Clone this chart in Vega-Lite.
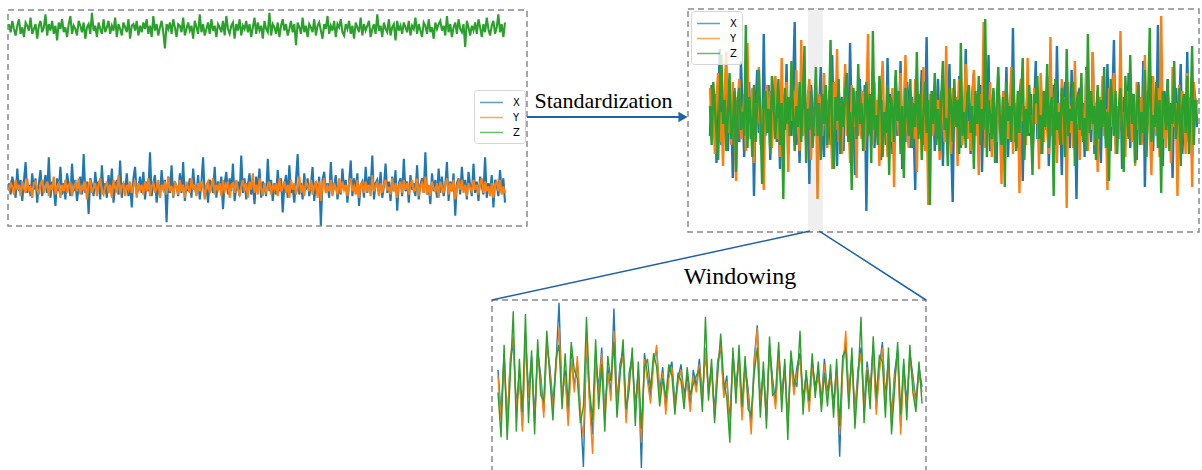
{
"$schema":"https://vega.github.io/schema/vega-lite/v6.json",
"width":1202,"height":470,"autosize":"none","padding":0,"background":"white",
"config":{"view":{"stroke":null}},
"datasets":{
"raw":[
{"i":0,"X":0.3,"Y":-0.2,"Z":10.1},{"i":1,"X":-0.4,"Y":0.3,"Z":9.6},{"i":2,"X":0.7,"Y":0.1,"Z":10.3},{"i":3,"X":0.1,"Y":-0.4,"Z":9.8},{"i":4,"X":-0.6,"Y":0.5,"Z":9.4},{"i":5,"X":1.2,"Y":-0.1,"Z":10.0},{"i":6,"X":-0.2,"Y":0.2,"Z":10.4},{"i":7,"X":0.5,"Y":-0.5,"Z":9.5},{"i":8,"X":-0.8,"Y":0.4,"Z":9.9},{"i":9,"X":0.4,"Y":0.0,"Z":9.3},
{"i":10,"X":1.6,"Y":-0.3,"Z":10.2},{"i":11,"X":-0.3,"Y":0.6,"Z":10.0},{"i":12,"X":0.2,"Y":-0.2,"Z":9.7},{"i":13,"X":-0.5,"Y":0.1,"Z":10.5},{"i":14,"X":0.9,"Y":-0.6,"Z":9.5},{"i":15,"X":-0.1,"Y":0.3,"Z":9.8},{"i":16,"X":0.6,"Y":0.4,"Z":10.1},{"i":17,"X":-0.9,"Y":-0.1,"Z":9.2},{"i":18,"X":0.3,"Y":-0.4,"Z":10.0},{"i":19,"X":1.1,"Y":0.2,"Z":10.3},
{"i":20,"X":-0.5,"Y":0.5,"Z":9.6},{"i":21,"X":0.2,"Y":-0.3,"Z":9.9},{"i":22,"X":0.8,"Y":0.0,"Z":10.7},{"i":23,"X":-0.3,"Y":0.4,"Z":9.4},{"i":24,"X":1.9,"Y":-0.5,"Z":10.1},{"i":25,"X":-0.6,"Y":0.2,"Z":9.7},{"i":26,"X":0.4,"Y":-0.1,"Z":10.3},{"i":27,"X":0.0,"Y":0.7,"Z":9.5},{"i":28,"X":-1.1,"Y":-0.4,"Z":10.0},{"i":29,"X":0.6,"Y":0.1,"Z":9.1},
{"i":30,"X":-0.2,"Y":0.3,"Z":10.2},{"i":31,"X":1.3,"Y":-0.6,"Z":9.8},{"i":32,"X":-0.4,"Y":0.2,"Z":10.4},{"i":33,"X":0.3,"Y":-0.2,"Z":9.6},{"i":34,"X":-0.7,"Y":0.5,"Z":9.9},{"i":35,"X":0.9,"Y":-0.3,"Z":9.3},{"i":36,"X":0.2,"Y":0.1,"Z":10.1},{"i":37,"X":-0.5,"Y":0.4,"Z":10.6},{"i":38,"X":1.5,"Y":-0.5,"Z":9.5},{"i":39,"X":-0.2,"Y":0.0,"Z":10.0},
{"i":40,"X":0.5,"Y":0.3,"Z":9.8},{"i":41,"X":-0.8,"Y":-0.2,"Z":9.4},{"i":42,"X":0.1,"Y":0.6,"Z":10.3},{"i":43,"X":0.7,"Y":-0.4,"Z":10.0},{"i":44,"X":-0.4,"Y":0.1,"Z":9.6},{"i":45,"X":2.1,"Y":-0.1,"Z":10.2},{"i":46,"X":-0.3,"Y":0.4,"Z":9.2},{"i":47,"X":0.4,"Y":-0.7,"Z":9.9},{"i":48,"X":-1.6,"Y":0.2,"Z":10.1},{"i":49,"X":0.6,"Y":0.5,"Z":9.5},
{"i":50,"X":0.2,"Y":-0.3,"Z":10.8},{"i":51,"X":-0.5,"Y":0.0,"Z":9.7},{"i":52,"X":1.0,"Y":0.3,"Z":10.0},{"i":53,"X":-0.1,"Y":-0.5,"Z":9.3},{"i":54,"X":0.4,"Y":0.2,"Z":10.2},{"i":55,"X":-0.7,"Y":0.6,"Z":9.8},{"i":56,"X":1.4,"Y":-0.2,"Z":9.5},{"i":57,"X":-0.3,"Y":-0.4,"Z":10.4},{"i":58,"X":0.3,"Y":0.1,"Z":9.6},{"i":59,"X":-0.6,"Y":0.4,"Z":9.9},
{"i":60,"X":0.8,"Y":-0.3,"Z":10.3},{"i":61,"X":-0.2,"Y":0.2,"Z":9.5},{"i":62,"X":1.2,"Y":-0.6,"Z":10.0},{"i":63,"X":-0.9,"Y":0.5,"Z":9.7},{"i":64,"X":0.1,"Y":0.0,"Z":10.5},{"i":65,"X":0.5,"Y":-0.2,"Z":9.3},{"i":66,"X":-0.4,"Y":0.8,"Z":10.1},{"i":67,"X":1.7,"Y":-0.4,"Z":9.8},{"i":68,"X":-0.6,"Y":0.1,"Z":9.4},{"i":69,"X":0.3,"Y":0.3,"Z":10.2},
{"i":70,"X":-0.1,"Y":-0.5,"Z":9.9},{"i":71,"X":0.9,"Y":0.2,"Z":9.6},{"i":72,"X":-0.5,"Y":-0.1,"Z":10.4},{"i":73,"X":0.2,"Y":0.4,"Z":9.2},{"i":74,"X":-1.2,"Y":-0.3,"Z":10.0},{"i":75,"X":0.6,"Y":0.1,"Z":10.1},{"i":76,"X":1.3,"Y":0.5,"Z":9.7},{"i":77,"X":-0.4,"Y":-0.6,"Z":10.3},{"i":78,"X":0.0,"Y":0.3,"Z":9.4},{"i":79,"X":0.7,"Y":-0.1,"Z":10.0},
{"i":80,"X":-0.3,"Y":0.2,"Z":9.6},{"i":81,"X":1.0,"Y":-0.4,"Z":10.2},{"i":82,"X":-0.7,"Y":0.4,"Z":9.8},{"i":83,"X":0.4,"Y":-0.2,"Z":10.4},{"i":84,"X":-0.2,"Y":0.6,"Z":9.5},{"i":85,"X":2.2,"Y":-0.5,"Z":10.0},{"i":86,"X":-0.5,"Y":0.1,"Z":9.3},{"i":87,"X":0.3,"Y":0.3,"Z":10.6},{"i":88,"X":0.8,"Y":-0.3,"Z":9.7},{"i":89,"X":-0.9,"Y":0.0,"Z":10.1},
{"i":90,"X":0.2,"Y":0.5,"Z":9.4},{"i":91,"X":-0.4,"Y":-0.6,"Z":9.9},{"i":92,"X":1.1,"Y":0.2,"Z":10.3},{"i":93,"X":-0.1,"Y":-0.1,"Z":9.6},{"i":94,"X":0.5,"Y":0.4,"Z":8.6},{"i":95,"X":-2.1,"Y":-0.4,"Z":10.1},{"i":96,"X":0.7,"Y":0.7,"Z":9.8},{"i":97,"X":-0.3,"Y":-0.2,"Z":10.2},{"i":98,"X":1.4,"Y":0.1,"Z":9.5},{"i":99,"X":-0.6,"Y":-0.5,"Z":10.4},
{"i":100,"X":0.4,"Y":0.3,"Z":9.9},{"i":101,"X":0.1,"Y":0.1,"Z":9.3},{"i":102,"X":-0.5,"Y":-0.4,"Z":10.1},{"i":103,"X":0.9,"Y":0.5,"Z":10.0},{"i":104,"X":-0.3,"Y":-0.2,"Z":9.6},{"i":105,"X":1.6,"Y":0.2,"Z":10.5},{"i":106,"X":-0.8,"Y":-0.6,"Z":9.4},{"i":107,"X":0.2,"Y":0.4,"Z":9.8},{"i":108,"X":-0.2,"Y":0.0,"Z":10.2},{"i":109,"X":0.6,"Y":-0.3,"Z":9.7},
{"i":110,"X":-0.6,"Y":0.6,"Z":10.0},{"i":111,"X":1.2,"Y":-0.1,"Z":9.2},{"i":112,"X":0.0,"Y":0.2,"Z":10.3},{"i":113,"X":-0.4,"Y":-0.5,"Z":9.9},{"i":114,"X":0.8,"Y":0.3,"Z":9.5},{"i":115,"X":-0.7,"Y":-0.2,"Z":10.7},{"i":116,"X":0.3,"Y":0.4,"Z":9.6},{"i":117,"X":1.9,"Y":0.1,"Z":10.1},{"i":118,"X":-0.5,"Y":-0.7,"Z":9.4},{"i":119,"X":0.1,"Y":0.2,"Z":9.8},
{"i":120,"X":-0.9,"Y":0.4,"Z":10.2},{"i":121,"X":0.5,"Y":-0.3,"Z":9.5},{"i":122,"X":0.2,"Y":0.1,"Z":10.4},{"i":123,"X":-0.3,"Y":0.6,"Z":9.7},{"i":124,"X":1.3,"Y":-0.4,"Z":10.0},{"i":125,"X":-0.6,"Y":0.2,"Z":9.3},{"i":126,"X":0.4,"Y":-0.1,"Z":10.1},{"i":127,"X":-0.1,"Y":0.3,"Z":9.9},{"i":128,"X":0.7,"Y":-0.5,"Z":9.6},{"i":129,"X":-1.3,"Y":0.5,"Z":10.3},
{"i":130,"X":0.3,"Y":-0.2,"Z":9.4},{"i":131,"X":1.0,"Y":0.0,"Z":10.6},{"i":132,"X":-0.4,"Y":0.4,"Z":9.8},{"i":133,"X":0.6,"Y":-0.6,"Z":9.5},{"i":134,"X":-0.2,"Y":0.2,"Z":10.0},{"i":135,"X":1.5,"Y":0.3,"Z":10.2},{"i":136,"X":-0.8,"Y":-0.3,"Z":9.2},{"i":137,"X":0.1,"Y":0.5,"Z":10.1},{"i":138,"X":0.4,"Y":-0.1,"Z":9.7},{"i":139,"X":-0.5,"Y":-0.4,"Z":10.4},
{"i":140,"X":2.0,"Y":0.1,"Z":9.4},{"i":141,"X":-0.3,"Y":0.5,"Z":10.0},{"i":142,"X":0.6,"Y":-0.2,"Z":9.8},{"i":143,"X":-0.7,"Y":0.3,"Z":10.3},{"i":144,"X":0.2,"Y":-0.6,"Z":9.6},{"i":145,"X":0.9,"Y":0.4,"Z":10.1},{"i":146,"X":-0.4,"Y":-0.1,"Z":9.3},{"i":147,"X":0.3,"Y":0.9,"Z":9.9},{"i":148,"X":-1.0,"Y":-0.3,"Z":10.5},{"i":149,"X":0.7,"Y":0.2,"Z":9.5},
{"i":150,"X":-0.1,"Y":-0.4,"Z":10.2},{"i":151,"X":1.2,"Y":0.6,"Z":9.7},{"i":152,"X":-0.6,"Y":0.0,"Z":10.0},{"i":153,"X":0.4,"Y":-0.5,"Z":9.2},{"i":154,"X":0.1,"Y":0.3,"Z":10.3},{"i":155,"X":-0.5,"Y":-0.2,"Z":9.8},{"i":156,"X":1.8,"Y":0.1,"Z":9.6},{"i":157,"X":-0.2,"Y":0.4,"Z":10.8},{"i":158,"X":0.5,"Y":-0.4,"Z":9.4},{"i":159,"X":-0.8,"Y":0.2,"Z":10.1},
{"i":160,"X":0.3,"Y":-0.1,"Z":9.9},{"i":161,"X":-0.4,"Y":0.3,"Z":9.5},{"i":162,"X":1.1,"Y":-0.5,"Z":10.2},{"i":163,"X":-0.2,"Y":0.6,"Z":9.3},{"i":164,"X":0.6,"Y":-0.2,"Z":10.0},{"i":165,"X":-1.5,"Y":0.1,"Z":10.4},{"i":166,"X":0.2,"Y":0.4,"Z":9.7},{"i":167,"X":0.8,"Y":-0.3,"Z":10.1},{"i":168,"X":-0.6,"Y":0.2,"Z":9.4},{"i":169,"X":1.4,"Y":-0.6,"Z":9.8},
{"i":170,"X":-0.3,"Y":0.5,"Z":10.3},{"i":171,"X":0.1,"Y":-0.1,"Z":9.6},{"i":172,"X":-0.9,"Y":0.3,"Z":10.1},{"i":173,"X":0.5,"Y":-0.4,"Z":8.8},{"i":174,"X":2.1,"Y":0.0,"Z":10.2},{"i":175,"X":-0.4,"Y":0.7,"Z":9.9},{"i":176,"X":0.3,"Y":-0.3,"Z":9.5},{"i":177,"X":-0.7,"Y":0.2,"Z":10.5},{"i":178,"X":0.9,"Y":-0.5,"Z":9.6},{"i":179,"X":-0.1,"Y":0.4,"Z":10.0},
{"i":180,"X":0.6,"Y":0.2,"Z":9.3},{"i":181,"X":-0.5,"Y":-0.2,"Z":10.1},{"i":182,"X":0.2,"Y":0.5,"Z":9.9},{"i":183,"X":1.3,"Y":-0.4,"Z":9.6},{"i":184,"X":-0.8,"Y":0.1,"Z":10.4},{"i":185,"X":0.4,"Y":0.3,"Z":9.4},{"i":186,"X":-0.3,"Y":-0.6,"Z":10.0},{"i":187,"X":0.7,"Y":0.4,"Z":10.2},{"i":188,"X":-2.3,"Y":-0.8,"Z":9.7},{"i":189,"X":0.5,"Y":0.2,"Z":9.2},
{"i":190,"X":1.0,"Y":0.6,"Z":10.1},{"i":191,"X":-0.2,"Y":-0.3,"Z":9.8},{"i":192,"X":0.3,"Y":0.1,"Z":10.6},{"i":193,"X":-0.6,"Y":-0.2,"Z":9.5},{"i":194,"X":1.6,"Y":0.5,"Z":10.0},{"i":195,"X":-0.4,"Y":-0.5,"Z":9.7},{"i":196,"X":0.1,"Y":0.3,"Z":10.3},{"i":197,"X":0.8,"Y":0.0,"Z":9.3},{"i":198,"X":-0.7,"Y":-0.4,"Z":10.1},{"i":199,"X":0.2,"Y":0.6,"Z":9.9},
{"i":200,"X":-0.4,"Y":-0.3,"Z":10.4},{"i":201,"X":1.2,"Y":0.4,"Z":9.6},{"i":202,"X":-0.1,"Y":-0.1,"Z":9.4},{"i":203,"X":0.5,"Y":0.2,"Z":10.1},{"i":204,"X":-0.9,"Y":-0.5,"Z":9.8},{"i":205,"X":0.3,"Y":0.3,"Z":10.3},{"i":206,"X":1.7,"Y":0.6,"Z":9.5},{"i":207,"X":-0.5,"Y":-0.2,"Z":10.0},{"i":208,"X":0.6,"Y":0.1,"Z":9.2},{"i":209,"X":-0.2,"Y":-0.4,"Z":10.2},
{"i":210,"X":0.9,"Y":0.5,"Z":9.9},{"i":211,"X":-1.1,"Y":-0.6,"Z":9.6},{"i":212,"X":0.2,"Y":0.2,"Z":10.5},{"i":213,"X":0.4,"Y":0.3,"Z":9.4},{"i":214,"X":-0.6,"Y":-0.3,"Z":10.1},{"i":215,"X":1.3,"Y":0.4,"Z":9.7},{"i":216,"X":-0.3,"Y":-0.1,"Z":10.0},{"i":217,"X":0.7,"Y":0.2,"Z":10.3},{"i":218,"X":-0.1,"Y":-0.5,"Z":9.3},{"i":219,"X":2.0,"Y":0.8,"Z":9.8},
{"i":220,"X":-0.7,"Y":-0.2,"Z":10.1},{"i":221,"X":0.3,"Y":0.1,"Z":9.5},{"i":222,"X":0.5,"Y":0.4,"Z":10.7},{"i":223,"X":-0.4,"Y":-0.5,"Z":9.7},{"i":224,"X":1.0,"Y":0.3,"Z":10.0},{"i":225,"X":-0.6,"Y":-0.3,"Z":9.3},{"i":226,"X":0.1,"Y":0.2,"Z":10.2},{"i":227,"X":1.5,"Y":0.5,"Z":9.8},{"i":228,"X":-0.3,"Y":-0.1,"Z":9.6},{"i":229,"X":0.4,"Y":0.0,"Z":10.4},
{"i":230,"X":-0.8,"Y":-0.4,"Z":9.4},{"i":231,"X":0.7,"Y":0.6,"Z":9.9},{"i":232,"X":-0.2,"Y":-0.2,"Z":10.1},{"i":233,"X":1.1,"Y":0.3,"Z":9.1},{"i":234,"X":-1.4,"Y":-0.6,"Z":10.3},{"i":235,"X":0.3,"Y":0.1,"Z":9.7},{"i":236,"X":0.6,"Y":0.4,"Z":10.0},{"i":237,"X":-0.5,"Y":-0.3,"Z":9.5},{"i":238,"X":1.8,"Y":0.5,"Z":10.2},{"i":239,"X":-0.2,"Y":-0.1,"Z":9.9},
{"i":240,"X":0.4,"Y":0.3,"Z":9.6},{"i":241,"X":-0.9,"Y":-0.4,"Z":10.3},{"i":242,"X":0.8,"Y":0.2,"Z":9.4},{"i":243,"X":-0.1,"Y":0.5,"Z":10.0},{"i":244,"X":0.3,"Y":-0.2,"Z":9.8},{"i":245,"X":-0.5,"Y":-0.1,"Z":10.5},{"i":246,"X":1.4,"Y":0.6,"Z":9.5},{"i":247,"X":-0.7,"Y":-0.5,"Z":10.1},{"i":248,"X":0.2,"Y":0.1,"Z":9.7},{"i":249,"X":0.6,"Y":0.3,"Z":9.3},
{"i":250,"X":-0.3,"Y":-0.3,"Z":10.2},{"i":251,"X":2.2,"Y":0.7,"Z":10.0},{"i":252,"X":-0.4,"Y":-0.4,"Z":9.5},{"i":253,"X":0.1,"Y":0.2,"Z":10.4},{"i":254,"X":-1.0,"Y":-0.5,"Z":9.6},{"i":255,"X":0.9,"Y":0.4,"Z":9.9},{"i":256,"X":-0.2,"Y":0.0,"Z":9.2},{"i":257,"X":0.5,"Y":-0.2,"Z":10.2},{"i":258,"X":-0.6,"Y":0.3,"Z":9.8},{"i":259,"X":1.2,"Y":-0.6,"Z":10.1},
{"i":260,"X":-0.3,"Y":0.4,"Z":10.3},{"i":261,"X":0.7,"Y":0.1,"Z":9.7},{"i":262,"X":-0.5,"Y":-0.3,"Z":10.0},{"i":263,"X":0.2,"Y":0.2,"Z":9.4},{"i":264,"X":1.6,"Y":0.6,"Z":10.6},{"i":265,"X":-0.8,"Y":-0.4,"Z":9.6},{"i":266,"X":0.4,"Y":0.3,"Z":10.1},{"i":267,"X":-0.2,"Y":-0.2,"Z":9.3},{"i":268,"X":0.9,"Y":0.5,"Z":9.9},{"i":269,"X":-1.7,"Y":-0.7,"Z":10.2},
{"i":270,"X":0.3,"Y":0.1,"Z":9.5},{"i":271,"X":0.6,"Y":0.4,"Z":10.4},{"i":272,"X":-0.4,"Y":-0.1,"Z":9.8},{"i":273,"X":1.3,"Y":0.5,"Z":9.6},{"i":274,"X":-0.1,"Y":-0.3,"Z":10.1},{"i":275,"X":0.5,"Y":0.2,"Z":8.7},{"i":276,"X":-0.7,"Y":-0.5,"Z":10.3},{"i":277,"X":1.0,"Y":0.3,"Z":9.9},{"i":278,"X":0.2,"Y":0.0,"Z":9.4},{"i":279,"X":-0.5,"Y":-0.2,"Z":10.0},
{"i":280,"X":1.5,"Y":0.5,"Z":9.7},{"i":281,"X":-0.3,"Y":-0.1,"Z":10.2},{"i":282,"X":0.4,"Y":0.2,"Z":9.5},{"i":283,"X":-0.8,"Y":-0.4,"Z":10.4},{"i":284,"X":0.7,"Y":0.3,"Z":9.9},{"i":285,"X":0.1,"Y":0.6,"Z":9.3},{"i":286,"X":-0.4,"Y":-0.3,"Z":10.1},{"i":287,"X":1.9,"Y":0.4,"Z":9.6},{"i":288,"X":-0.6,"Y":-0.2,"Z":10.5},{"i":289,"X":0.3,"Y":0.1,"Z":9.8},
{"i":290,"X":-0.2,"Y":-0.5,"Z":9.4},{"i":291,"X":0.8,"Y":0.3,"Z":10.0},{"i":292,"X":-1.2,"Y":-0.6,"Z":10.3},{"i":293,"X":0.5,"Y":0.2,"Z":9.5},{"i":294,"X":0.2,"Y":0.4,"Z":9.9},{"i":295,"X":-0.5,"Y":-0.2,"Z":10.7},{"i":296,"X":1.1,"Y":0.5,"Z":9.6},{"i":297,"X":-0.3,"Y":-0.4,"Z":10.1},{"i":298,"X":0.6,"Y":0.1,"Z":9.3},{"i":299,"X":-0.9,"Y":-0.3,"Z":10.2}
],
"std":[
{"i":0,"X":-0.6,"Y":1.0,"Z":0.4},{"i":1,"X":1.1,"Y":-0.4,"Z":-0.9},{"i":2,"X":-0.2,"Y":0.3,"Z":1.2},{"i":3,"X":0.8,"Y":-1.2,"Z":0.3},{"i":4,"X":-1.5,"Y":0.7,"Z":-0.5},{"i":5,"X":0.4,"Y":1.5,"Z":-1.4},{"i":6,"X":2.3,"Y":-0.8,"Z":0.8},{"i":7,"X":-0.9,"Y":0.2,"Z":2.1},{"i":8,"X":0.1,"Y":-1.6,"Z":-0.2},{"i":9,"X":-0.4,"Y":0.9,"Z":0.6},
{"i":10,"X":1.3,"Y":2.2,"Z":-1.1},{"i":11,"X":-1.1,"Y":-0.5,"Z":0.1},{"i":12,"X":0.6,"Y":0.4,"Z":1.5},{"i":13,"X":0.2,"Y":-0.9,"Z":-0.7},{"i":14,"X":-2.0,"Y":1.2,"Z":-0.3},{"i":15,"X":1.0,"Y":-0.2,"Z":0.9},{"i":16,"X":-0.3,"Y":-2.1,"Z":-1.8},{"i":17,"X":0.7,"Y":0.6,"Z":0.5},{"i":18,"X":-0.8,"Y":1.3,"Z":1.0},{"i":19,"X":1.9,"Y":-0.7,"Z":-0.4},
{"i":20,"X":0.3,"Y":-0.3,"Z":0.2},{"i":21,"X":-1.3,"Y":0.8,"Z":-0.6},{"i":22,"X":0.5,"Y":-1.1,"Z":3.1},{"i":23,"X":-0.1,"Y":2.5,"Z":-1.0},{"i":24,"X":1.2,"Y":-0.6,"Z":0.7},{"i":25,"X":-0.7,"Y":0.1,"Z":0.0},{"i":26,"X":0.9,"Y":1.0,"Z":-1.3},{"i":27,"X":-2.6,"Y":-1.5,"Z":1.1},{"i":28,"X":0.4,"Y":0.5,"Z":-0.8},{"i":29,"X":1.6,"Y":-0.2,"Z":0.4},
{"i":30,"X":-0.5,"Y":1.7,"Z":1.6},{"i":31,"X":0.0,"Y":-0.9,"Z":-0.1},{"i":32,"X":-1.0,"Y":0.3,"Z":-2.2},{"i":33,"X":2.8,"Y":-2.4,"Z":0.6},{"i":34,"X":-0.6,"Y":0.6,"Z":0.9},{"i":35,"X":0.3,"Y":1.1,"Z":-0.5},{"i":36,"X":1.1,"Y":-0.4,"Z":0.3},{"i":37,"X":-1.4,"Y":0.9,"Z":-1.2},{"i":38,"X":0.6,"Y":-1.0,"Z":1.4},{"i":39,"X":-0.2,"Y":0.2,"Z":0.8},
{"i":40,"X":1.4,"Y":1.4,"Z":-0.7},{"i":41,"X":-0.8,"Y":-0.7,"Z":0.1},{"i":42,"X":0.2,"Y":0.0,"Z":1.3},{"i":43,"X":-1.7,"Y":-1.3,"Z":-0.9},{"i":44,"X":0.9,"Y":2.0,"Z":0.5},{"i":45,"X":0.5,"Y":-0.5,"Z":-2.7},{"i":46,"X":-0.4,"Y":0.6,"Z":1.0},{"i":47,"X":1.8,"Y":1.2,"Z":-0.2},{"i":48,"X":-1.2,"Y":-1.8,"Z":0.7},{"i":49,"X":0.1,"Y":0.4,"Z":-0.6},
{"i":50,"X":-0.6,"Y":-0.1,"Z":1.9},{"i":51,"X":1.0,"Y":0.9,"Z":0.2},{"i":52,"X":3.2,"Y":-0.8,"Z":-1.1},{"i":53,"X":-0.9,"Y":1.6,"Z":0.4},{"i":54,"X":0.4,"Y":-0.3,"Z":-0.3},{"i":55,"X":-1.5,"Y":-1.1,"Z":1.2},{"i":56,"X":0.7,"Y":2.6,"Z":-0.8},{"i":57,"X":-0.3,"Y":-0.6,"Z":0.6},{"i":58,"X":1.2,"Y":0.3,"Z":2.4},{"i":59,"X":-0.7,"Y":-0.9,"Z":-1.5},
{"i":60,"X":0.5,"Y":0.7,"Z":0.3},{"i":61,"X":-2.2,"Y":1.3,"Z":-0.4},{"i":62,"X":1.1,"Y":-1.4,"Z":0.9},{"i":63,"X":0.3,"Y":0.2,"Z":-1.0},{"i":64,"X":-0.6,"Y":-0.5,"Z":0.1},{"i":65,"X":0.8,"Y":1.0,"Z":1.7},{"i":66,"X":-1.0,"Y":-2.7,"Z":-0.6},{"i":67,"X":0.2,"Y":0.8,"Z":0.5},{"i":68,"X":1.7,"Y":0.4,"Z":-1.4},{"i":69,"X":-0.5,"Y":-0.6,"Z":0.8},
{"i":70,"X":-1.3,"Y":1.5,"Z":-0.2},{"i":71,"X":0.9,"Y":-0.2,"Z":1.1},{"i":72,"X":-0.1,"Y":-1.0,"Z":-0.9},{"i":73,"X":0.6,"Y":0.9,"Z":0.0},{"i":74,"X":-0.9,"Y":0.1,"Z":2.6},{"i":75,"X":2.1,"Y":-1.7,"Z":-0.5},{"i":76,"X":-0.4,"Y":1.2,"Z":-1.7},{"i":77,"X":0.1,"Y":-0.4,"Z":0.7},{"i":78,"X":-1.6,"Y":2.3,"Z":-0.1},{"i":79,"X":1.0,"Y":-0.8,"Z":1.3},
{"i":80,"X":-0.3,"Y":0.5,"Z":-1.2},{"i":81,"X":0.7,"Y":-1.2,"Z":0.6},{"i":82,"X":-1.1,"Y":0.3,"Z":-0.3},{"i":83,"X":1.5,"Y":1.8,"Z":0.9},{"i":84,"X":0.2,"Y":-0.6,"Z":1.5},{"i":85,"X":-0.8,"Y":0.0,"Z":-0.8},{"i":86,"X":2.5,"Y":-1.5,"Z":0.2},{"i":87,"X":-0.2,"Y":1.1,"Z":-2.4},{"i":88,"X":0.4,"Y":-0.3,"Z":1.0},{"i":89,"X":-1.9,"Y":0.7,"Z":0.4},
{"i":90,"X":0.9,"Y":-2.0,"Z":-0.7},{"i":91,"X":-0.6,"Y":1.4,"Z":1.8},{"i":92,"X":1.3,"Y":0.2,"Z":-0.2},{"i":93,"X":0.0,"Y":-0.7,"Z":0.5},{"i":94,"X":-0.7,"Y":0.9,"Z":-1.1},{"i":95,"X":1.1,"Y":-1.1,"Z":0.3},{"i":96,"X":-3.1,"Y":0.4,"Z":1.2},{"i":97,"X":0.5,"Y":2.8,"Z":-0.6},{"i":98,"X":0.8,"Y":-0.5,"Z":0.8},{"i":99,"X":-0.4,"Y":0.1,"Z":-1.5},
{"i":100,"X":1.6,"Y":-0.9,"Z":2.9},{"i":101,"X":-1.0,"Y":1.2,"Z":-0.4},{"i":102,"X":0.3,"Y":-0.2,"Z":0.1},{"i":103,"X":-0.5,"Y":0.6,"Z":-0.9},{"i":104,"X":1.0,"Y":-1.6,"Z":1.4},{"i":105,"X":-1.4,"Y":0.8,"Z":0.6},{"i":106,"X":0.6,"Y":1.9,"Z":-1.3},{"i":107,"X":0.1,"Y":-0.4,"Z":0.2},{"i":108,"X":-0.9,"Y":0.3,"Z":-0.5},{"i":109,"X":2.0,"Y":-1.3,"Z":1.1},
{"i":110,"X":-0.3,"Y":0.5,"Z":-1.9},{"i":111,"X":0.8,"Y":-0.8,"Z":0.7},{"i":112,"X":-1.2,"Y":1.0,"Z":0.3},{"i":113,"X":0.4,"Y":-2.3,"Z":-0.8},{"i":114,"X":1.4,"Y":0.7,"Z":1.6},{"i":115,"X":-0.6,"Y":0.2,"Z":-0.1},{"i":116,"X":-0.1,"Y":-0.6,"Z":0.9},{"i":117,"X":1.9,"Y":1.5,"Z":-1.2},{"i":118,"X":-1.7,"Y":-1.2,"Z":0.4},{"i":119,"X":0.2,"Y":0.4,"Z":-2.0},
{"i":120,"X":-0.8,"Y":2.1,"Z":1.0},{"i":121,"X":1.2,"Y":-0.3,"Z":0.2},{"i":122,"X":0.5,"Y":-1.0,"Z":-0.6},{"i":123,"X":-1.0,"Y":0.9,"Z":1.3},{"i":124,"X":0.7,"Y":0.2,"Z":-1.0},{"i":125,"X":-0.2,"Y":-0.7,"Z":0.5},{"i":126,"X":-2.4,"Y":1.3,"Z":-0.3},{"i":127,"X":1.1,"Y":-1.8,"Z":2.2},{"i":128,"X":-0.5,"Y":0.6,"Z":-0.7},{"i":129,"X":0.3,"Y":0.0,"Z":0.8},
{"i":130,"X":1.6,"Y":-0.5,"Z":-1.4},{"i":131,"X":-0.9,"Y":1.7,"Z":0.1},{"i":132,"X":0.0,"Y":-1.1,"Z":1.2},{"i":133,"X":2.7,"Y":0.4,"Z":-0.5},{"i":134,"X":-1.3,"Y":-2.9,"Z":0.6},{"i":135,"X":0.6,"Y":0.8,"Z":-2.9},{"i":136,"X":-0.4,"Y":0.3,"Z":0.9},{"i":137,"X":0.9,"Y":-0.6,"Z":-0.2},{"i":138,"X":-1.1,"Y":1.1,"Z":1.5},{"i":139,"X":0.2,"Y":-0.2,"Z":-0.9},
{"i":140,"X":1.3,"Y":0.6,"Z":0.3},{"i":141,"X":-0.6,"Y":-1.4,"Z":-1.1},{"i":142,"X":0.4,"Y":0.9,"Z":0.7},{"i":143,"X":-1.6,"Y":0.1,"Z":1.9},{"i":144,"X":1.0,"Y":-0.8,"Z":-0.4},{"i":145,"X":0.6,"Y":2.4,"Z":0.0},{"i":146,"X":-0.3,"Y":-0.4,"Z":-1.6},{"i":147,"X":1.8,"Y":0.5,"Z":1.0},{"i":148,"X":-0.8,"Y":-1.2,"Z":0.5},{"i":149,"X":-2.8,"Y":1.0,"Z":-0.8},
{"i":150,"X":0.9,"Y":-0.3,"Z":1.3},{"i":151,"X":0.2,"Y":0.7,"Z":-0.3},{"i":152,"X":-0.5,"Y":-1.6,"Z":0.6},{"i":153,"X":1.4,"Y":1.3,"Z":-1.2},{"i":154,"X":-1.0,"Y":0.2,"Z":2.5},{"i":155,"X":0.3,"Y":-0.9,"Z":-0.6},{"i":156,"X":-0.7,"Y":0.4,"Z":0.2},{"i":157,"X":2.3,"Y":1.8,"Z":-1.0},{"i":158,"X":-0.2,"Y":-0.7,"Z":0.8},{"i":159,"X":0.5,"Y":-0.1,"Z":1.1},
{"i":160,"X":-1.2,"Y":-1.1,"Z":-0.5},{"i":161,"X":0.8,"Y":0.5,"Z":0.4},{"i":162,"X":1.5,"Y":1.6,"Z":-1.7},{"i":163,"X":-0.4,"Y":-0.6,"Z":0.9},{"i":164,"X":0.1,"Y":0.3,"Z":-0.2},{"i":165,"X":-0.9,"Y":-1.9,"Z":1.4},{"i":166,"X":1.1,"Y":0.8,"Z":-0.9},{"i":167,"X":-1.8,"Y":-0.2,"Z":0.3},{"i":168,"X":0.6,"Y":3.2,"Z":-0.4},{"i":169,"X":0.3,"Y":-1.0,"Z":3.3},
{"i":170,"X":-0.6,"Y":0.4,"Z":-1.3},{"i":171,"X":2.1,"Y":-0.5,"Z":0.6},{"i":172,"X":-1.1,"Y":1.2,"Z":0.1},{"i":173,"X":0.4,"Y":-1.3,"Z":-0.7},{"i":174,"X":0.9,"Y":0.6,"Z":1.0},{"i":175,"X":-0.3,"Y":0.0,"Z":-1.5},{"i":176,"X":-1.5,"Y":-0.8,"Z":0.5},{"i":177,"X":1.2,"Y":1.4,"Z":1.7},{"i":178,"X":0.0,"Y":-0.4,"Z":-0.3},{"i":179,"X":-0.7,"Y":-2.2,"Z":-0.9},
{"i":180,"X":0.9,"Y":0.9,"Z":0.7},{"i":181,"X":-0.2,"Y":-0.3,"Z":-2.3},{"i":182,"X":1.7,"Y":1.1,"Z":1.2},{"i":183,"X":-1.3,"Y":-0.7,"Z":-0.1},{"i":184,"X":0.5,"Y":0.2,"Z":0.4},{"i":185,"X":-0.5,"Y":1.7,"Z":-0.8},{"i":186,"X":3.0,"Y":-1.2,"Z":1.6},{"i":187,"X":-0.8,"Y":0.5,"Z":0.2},{"i":188,"X":0.2,"Y":-0.6,"Z":-1.1},{"i":189,"X":-1.0,"Y":0.8,"Z":0.9},
{"i":190,"X":0.7,"Y":-2.5,"Z":-0.5},{"i":191,"X":1.3,"Y":1.3,"Z":0.6},{"i":192,"X":-2.1,"Y":-0.1,"Z":2.0},{"i":193,"X":0.4,"Y":0.4,"Z":-1.4},{"i":194,"X":-0.1,"Y":-0.9,"Z":0.3},{"i":195,"X":1.0,"Y":2.0,"Z":-0.6},{"i":196,"X":-0.6,"Y":-0.5,"Z":1.1},{"i":197,"X":0.8,"Y":0.1,"Z":-0.2},{"i":198,"X":-1.4,"Y":-1.4,"Z":-1.9},{"i":199,"X":0.3,"Y":1.0,"Z":0.8},
{"i":200,"X":1.9,"Y":-0.2,"Z":0.5},{"i":201,"X":-0.7,"Y":0.6,"Z":1.4},{"i":202,"X":0.1,"Y":-1.7,"Z":-0.7},{"i":203,"X":-1.2,"Y":1.5,"Z":0.1},{"i":204,"X":0.6,"Y":0.3,"Z":-1.2},{"i":205,"X":0.9,"Y":-0.8,"Z":0.9},{"i":206,"X":-0.4,"Y":0.9,"Z":-0.3},{"i":207,"X":1.4,"Y":-0.4,"Z":1.8},{"i":208,"X":-1.6,"Y":-1.2,"Z":-1.0},{"i":209,"X":0.2,"Y":2.7,"Z":0.4},
{"i":210,"X":-0.3,"Y":-0.6,"Z":0.7},{"i":211,"X":1.1,"Y":0.2,"Z":-2.6},{"i":212,"X":-0.9,"Y":1.0,"Z":1.3},{"i":213,"X":2.4,"Y":-1.5,"Z":-0.4},{"i":214,"X":-0.5,"Y":0.5,"Z":0.2},{"i":215,"X":0.0,"Y":-0.3,"Z":-0.9},{"i":216,"X":-1.9,"Y":1.3,"Z":1.0},{"i":217,"X":0.7,"Y":-0.9,"Z":0.6},{"i":218,"X":1.2,"Y":0.7,"Z":-1.3},{"i":219,"X":-0.6,"Y":-3.0,"Z":2.3},
{"i":220,"X":0.4,"Y":1.2,"Z":-0.6},{"i":221,"X":-1.0,"Y":-0.5,"Z":0.3},{"i":222,"X":1.6,"Y":0.4,"Z":-0.1},{"i":223,"X":-0.2,"Y":-1.0,"Z":1.2},{"i":224,"X":0.3,"Y":1.9,"Z":-1.6},{"i":225,"X":-2.7,"Y":-0.2,"Z":0.5},{"i":226,"X":0.8,"Y":0.6,"Z":0.8},{"i":227,"X":1.0,"Y":-1.4,"Z":-0.4},{"i":228,"X":-0.6,"Y":0.8,"Z":1.5},{"i":229,"X":0.5,"Y":0.1,"Z":-0.8},
{"i":230,"X":-1.3,"Y":-0.7,"Z":0.0},{"i":231,"X":1.7,"Y":1.6,"Z":-1.1},{"i":232,"X":-0.1,"Y":-1.1,"Z":2.8},{"i":233,"X":0.6,"Y":0.3,"Z":-0.5},{"i":234,"X":-0.8,"Y":-0.4,"Z":0.9},{"i":235,"X":2.2,"Y":2.2,"Z":-0.2},{"i":236,"X":-1.2,"Y":-0.9,"Z":0.4},{"i":237,"X":0.2,"Y":0.5,"Z":-1.4},{"i":238,"X":0.9,"Y":-1.8,"Z":1.1},{"i":239,"X":-0.4,"Y":0.7,"Z":-0.7},
{"i":240,"X":-1.5,"Y":0.0,"Z":0.6},{"i":241,"X":1.1,"Y":1.4,"Z":-0.3},{"i":242,"X":0.4,"Y":-0.6,"Z":1.7},{"i":243,"X":-0.7,"Y":0.3,"Z":-1.0},{"i":244,"X":1.8,"Y":-2.4,"Z":0.2},{"i":245,"X":-0.3,"Y":1.0,"Z":-2.1},{"i":246,"X":-1.1,"Y":-0.3,"Z":1.3},{"i":247,"X":0.6,"Y":0.8,"Z":0.5},{"i":248,"X":2.6,"Y":1.5,"Z":-0.6},{"i":249,"X":-0.9,"Y":-1.2,"Z":0.9},
{"i":250,"X":0.1,"Y":0.4,"Z":-1.2},{"i":251,"X":-0.5,"Y":-0.7,"Z":0.3},{"i":252,"X":1.3,"Y":2.9,"Z":1.0},{"i":253,"X":-1.7,"Y":-0.5,"Z":-0.4},{"i":254,"X":0.7,"Y":0.2,"Z":-1.8},{"i":255,"X":0.3,"Y":-1.3,"Z":1.4},{"i":256,"X":-0.6,"Y":0.9,"Z":0.1},{"i":257,"X":1.5,"Y":-0.1,"Z":-0.7},{"i":258,"X":-1.0,"Y":1.1,"Z":2.1},{"i":259,"X":0.2,"Y":-0.8,"Z":-0.2},
{"i":260,"X":0.8,"Y":0.5,"Z":0.8},{"i":261,"X":-0.4,"Y":-1.6,"Z":-1.5},{"i":262,"X":-1.4,"Y":1.2,"Z":0.4},{"i":263,"X":1.2,"Y":-0.4,"Z":1.1},{"i":264,"X":0.0,"Y":0.7,"Z":-0.9},{"i":265,"X":-0.8,"Y":-0.9,"Z":0.2},{"i":266,"X":1.9,"Y":0.3,"Z":-0.5},{"i":267,"X":-2.3,"Y":2.1,"Z":1.6},{"i":268,"X":0.5,"Y":-1.1,"Z":-1.3},{"i":269,"X":0.9,"Y":0.6,"Z":0.7},
{"i":270,"X":-0.2,"Y":-0.2,"Z":3.0},{"i":271,"X":1.4,"Y":-1.9,"Z":-0.8},{"i":272,"X":-1.1,"Y":1.4,"Z":0.1},{"i":273,"X":0.6,"Y":0.0,"Z":-0.3},{"i":274,"X":-0.5,"Y":-0.6,"Z":1.2},{"i":275,"X":3.1,"Y":1.0,"Z":-1.0},{"i":276,"X":-0.7,"Y":-1.3,"Z":0.6},{"i":277,"X":0.2,"Y":3.4,"Z":-2.5},{"i":278,"X":-1.6,"Y":-0.7,"Z":0.9},{"i":279,"X":0.9,"Y":0.4,"Z":0.3},
{"i":280,"X":-0.1,"Y":-1.0,"Z":-0.4},{"i":281,"X":1.3,"Y":0.8,"Z":1.3},{"i":282,"X":-0.9,"Y":0.2,"Z":-1.1},{"i":283,"X":0.4,"Y":-1.5,"Z":0.5},{"i":284,"X":-2.0,"Y":1.7,"Z":-0.2},{"i":285,"X":0.7,"Y":-0.3,"Z":1.9},{"i":286,"X":1.0,"Y":0.5,"Z":-0.7},{"i":287,"X":-0.5,"Y":-2.6,"Z":0.0},{"i":288,"X":0.3,"Y":1.1,"Z":1.0},{"i":289,"X":1.8,"Y":-0.5,"Z":-1.6},
{"i":290,"X":-1.2,"Y":0.9,"Z":0.4},{"i":291,"X":0.1,"Y":0.3,"Z":0.8},{"i":292,"X":-0.6,"Y":-1.2,"Z":-0.5},{"i":293,"X":2.2,"Y":1.5,"Z":1.4},{"i":294,"X":-0.8,"Y":-0.4,"Z":-1.2},{"i":295,"X":0.5,"Y":0.7,"Z":0.2},{"i":296,"X":-1.3,"Y":-2.3,"Z":2.4},{"i":297,"X":1.1,"Y":1.2,"Z":-0.9},{"i":298,"X":0.6,"Y":-0.1,"Z":0.6},{"i":299,"X":-0.3,"Y":0.6,"Z":-0.1}
],
"win":[
{"i":0,"X":0.5,"Y":0.3,"Z":-0.3},{"i":1,"X":-1.1,"Y":-1.3,"Z":-1.9},{"i":2,"X":1.1,"Y":0.9,"Z":1.4},{"i":3,"X":-1.4,"Y":-1.6,"Z":-2.0},{"i":4,"X":0.7,"Y":0.9,"Z":0.2},{"i":5,"X":1.5,"Y":1.7,"Z":2.6},{"i":6,"X":-0.8,"Y":-1.0,"Z":-1.7},{"i":7,"X":0.4,"Y":0.2,"Z":0.9},{"i":8,"X":-1.5,"Y":-1.7,"Z":-1.0},{"i":9,"X":1.8,"Y":1.6,"Z":2.5},
{"i":10,"X":-0.3,"Y":-0.5,"Z":-1.4},{"i":11,"X":1.0,"Y":0.8,"Z":1.2},{"i":12,"X":-1.2,"Y":-1.4,"Z":-1.8},{"i":13,"X":1.2,"Y":1.0,"Z":1.6},{"i":14,"X":0.3,"Y":0.1,"Z":-0.4},{"i":15,"X":-1.0,"Y":-1.2,"Z":-0.6},{"i":16,"X":1.4,"Y":1.6,"Z":1.9},{"i":17,"X":0.6,"Y":0.4,"Z":0.2},{"i":18,"X":-0.7,"Y":-0.9,"Z":-1.3},{"i":19,"X":0.7,"Y":0.5,"Z":0.9},
{"i":20,"X":2.9,"Y":2.0,"Z":1.4},{"i":21,"X":-0.6,"Y":-0.4,"Z":-0.9},{"i":22,"X":0.5,"Y":0.3,"Z":1.1},{"i":23,"X":-1.3,"Y":-1.5,"Z":-0.8},{"i":24,"X":1.1,"Y":0.9,"Z":1.5},{"i":25,"X":-0.1,"Y":-0.3,"Z":0.5},{"i":26,"X":0.8,"Y":1.0,"Z":0.2},{"i":27,"X":-0.9,"Y":-1.1,"Z":-1.4},{"i":28,"X":-2.96,"Y":-1.9,"Z":-0.8},{"i":29,"X":1.5,"Y":1.7,"Z":2.4},
{"i":30,"X":-0.5,"Y":-0.7,"Z":-0.2},{"i":31,"X":-1.8,"Y":-2.5,"Z":-1.3},{"i":32,"X":1.0,"Y":0.8,"Z":1.6},{"i":33,"X":-0.2,"Y":-0.4,"Z":-0.9},{"i":34,"X":1.3,"Y":1.1,"Z":0.7},{"i":35,"X":-1.1,"Y":-1.3,"Z":-1.7},{"i":36,"X":0.6,"Y":0.4,"Z":1.0},{"i":37,"X":-0.4,"Y":-0.6,"Z":0.1},{"i":38,"X":2.7,"Y":1.9,"Z":1.5},{"i":39,"X":-0.7,"Y":-0.9,"Z":-1.2},
{"i":40,"X":0.7,"Y":0.5,"Z":0.3},{"i":41,"X":1.2,"Y":1.0,"Z":1.6},{"i":42,"X":-1.2,"Y":-1.4,"Z":-0.9},{"i":43,"X":0.4,"Y":0.2,"Z":-0.2},{"i":44,"X":1.0,"Y":0.8,"Z":1.3},{"i":45,"X":-0.8,"Y":-1.0,"Z":-1.5},{"i":46,"X":0.5,"Y":0.3,"Z":0.8},{"i":47,"X":-3.0,"Y":-2.1,"Z":-1.6},{"i":48,"X":1.1,"Y":0.9,"Z":0.6},{"i":49,"X":0.3,"Y":0.1,"Z":0.9},
{"i":50,"X":-0.5,"Y":-0.7,"Z":-0.2},{"i":51,"X":0.9,"Y":0.7,"Z":1.1},{"i":52,"X":1.2,"Y":1.4,"Z":0.6},{"i":53,"X":-0.3,"Y":-0.5,"Z":-0.8},{"i":54,"X":0.6,"Y":0.4,"Z":0.2},{"i":55,"X":-0.9,"Y":-1.1,"Z":-0.5},{"i":56,"X":0.4,"Y":0.2,"Z":0.7},{"i":57,"X":0.8,"Y":0.6,"Z":0.3},{"i":58,"X":-0.7,"Y":-0.9,"Z":-1.1},{"i":59,"X":0.2,"Y":0.0,"Z":0.4},
{"i":60,"X":0.7,"Y":0.5,"Z":0.1},{"i":61,"X":-0.4,"Y":-0.6,"Z":-0.9},{"i":62,"X":0.3,"Y":0.1,"Z":0.6},{"i":63,"X":-0.8,"Y":-1.0,"Z":-0.4},{"i":64,"X":0.5,"Y":0.3,"Z":0.0},{"i":65,"X":-0.1,"Y":-0.3,"Z":0.3},{"i":66,"X":0.9,"Y":0.7,"Z":0.5},{"i":67,"X":-0.5,"Y":-0.7,"Z":-1.0},{"i":68,"X":1.1,"Y":1.3,"Z":2.4},{"i":69,"X":-0.2,"Y":-0.4,"Z":-0.6},
{"i":70,"X":0.6,"Y":0.4,"Z":0.9},{"i":71,"X":-1.0,"Y":-1.2,"Z":-1.4},{"i":72,"X":0.8,"Y":0.6,"Z":0.3},{"i":73,"X":1.3,"Y":1.5,"Z":1.8},{"i":74,"X":-0.3,"Y":-0.5,"Z":0.1},{"i":75,"X":0.3,"Y":0.1,"Z":-0.5},{"i":76,"X":-1.4,"Y":-1.6,"Z":-2.1},{"i":77,"X":1.1,"Y":0.9,"Z":1.3},{"i":78,"X":-0.1,"Y":-0.3,"Z":-0.7},{"i":79,"X":1.0,"Y":0.8,"Z":1.4},
{"i":80,"X":-1.1,"Y":-1.3,"Z":-0.8},{"i":81,"X":0.7,"Y":0.5,"Z":1.0},{"i":82,"X":-0.2,"Y":-0.4,"Z":-0.9},{"i":83,"X":-1.5,"Y":-1.8,"Z":-1.1},{"i":84,"X":0.9,"Y":0.7,"Z":0.4},{"i":85,"X":2.1,"Y":2.0,"Z":1.3},{"i":86,"X":-0.6,"Y":-0.8,"Z":-1.2},{"i":87,"X":0.5,"Y":0.3,"Z":0.8},{"i":88,"X":-1.1,"Y":-1.3,"Z":-1.6},{"i":89,"X":1.4,"Y":1.2,"Z":1.7},
{"i":90,"X":0.2,"Y":0.0,"Z":-0.4},{"i":91,"X":-0.7,"Y":-0.9,"Z":-0.3},{"i":92,"X":1.2,"Y":1.0,"Z":1.5},{"i":93,"X":-0.4,"Y":-0.6,"Z":-1.0},{"i":94,"X":0.7,"Y":0.5,"Z":0.9},{"i":95,"X":-1.3,"Y":-1.5,"Z":-2.0},{"i":96,"X":1.0,"Y":0.8,"Z":1.2},{"i":97,"X":-0.2,"Y":-0.4,"Z":0.2},{"i":98,"X":0.6,"Y":0.4,"Z":-0.1},{"i":99,"X":1.1,"Y":0.9,"Z":1.9},
{"i":100,"X":-0.5,"Y":-0.7,"Z":-1.1},{"i":101,"X":0.3,"Y":0.1,"Z":0.5},{"i":102,"X":-0.8,"Y":-1.0,"Z":-0.6},{"i":103,"X":0.8,"Y":0.6,"Z":1.1},{"i":104,"X":-0.1,"Y":-0.3,"Z":-0.5},{"i":105,"X":0.5,"Y":0.3,"Z":0.8},{"i":106,"X":-0.6,"Y":-0.8,"Z":-1.0},{"i":107,"X":0.9,"Y":0.7,"Z":0.4},{"i":108,"X":-0.3,"Y":-0.5,"Z":-0.8},{"i":109,"X":0.4,"Y":0.2,"Z":0.7},
{"i":110,"X":-0.7,"Y":-0.9,"Z":-1.2},{"i":111,"X":0.6,"Y":0.4,"Z":0.9},{"i":112,"X":-2.6,"Y":-1.8,"Z":-1.5},{"i":113,"X":0.7,"Y":0.5,"Z":1.0},{"i":114,"X":1.5,"Y":1.9,"Z":1.2},{"i":115,"X":-0.4,"Y":-0.6,"Z":-0.9},{"i":116,"X":1.0,"Y":0.8,"Z":1.3},{"i":117,"X":-1.0,"Y":-1.2,"Z":-1.6},{"i":118,"X":0.5,"Y":0.3,"Z":0.1},{"i":119,"X":1.3,"Y":1.1,"Z":2.4},
{"i":120,"X":-0.8,"Y":-1.0,"Z":-1.4},{"i":121,"X":0.8,"Y":0.6,"Z":0.5},{"i":122,"X":-0.2,"Y":-0.4,"Z":-0.9},{"i":123,"X":1.4,"Y":1.2,"Z":1.7},{"i":124,"X":-0.9,"Y":-1.1,"Z":-0.5},{"i":125,"X":0.6,"Y":0.4,"Z":1.0},{"i":126,"X":1.5,"Y":1.3,"Z":0.8},{"i":127,"X":-0.5,"Y":-0.7,"Z":-1.2},{"i":128,"X":0.9,"Y":0.7,"Z":1.3},{"i":129,"X":-1.2,"Y":-1.4,"Z":-1.8},
{"i":130,"X":0.4,"Y":0.2,"Z":-0.2},{"i":131,"X":1.2,"Y":1.0,"Z":1.5},{"i":132,"X":-1.5,"Y":-1.8,"Z":-1.1},{"i":133,"X":0.7,"Y":0.5,"Z":0.9},{"i":134,"X":-0.7,"Y":-0.9,"Z":-1.3},{"i":135,"X":1.1,"Y":0.9,"Z":1.4},{"i":136,"X":0.3,"Y":0.1,"Z":-0.3},{"i":137,"X":-0.6,"Y":-0.8,"Z":-1.0},{"i":138,"X":0.6,"Y":0.4,"Z":0.8},{"i":139,"X":-0.1,"Y":-0.3,"Z":-0.7}
]
},
"resolve":{"scale":{"x":"independent","y":"independent","color":"independent"}},
"layer":[
{"layer":[
 {"data":{"values":[{}]},"mark":{"type":"rect","fill":"transparent","stroke":"#8a8a8a","strokeWidth":1.5,"strokeDash":[6,4]},
  "encoding":{"x":{"datum":-0.6,"type":"quantitative","scale":{"domain":[-0.6,312.26],"range":[8,527],"nice":false,"zero":false},"axis":null},"x2":{"datum":312.26},
  "y":{"datum":-2.34,"type":"quantitative","scale":{"domain":[-2.34,10.97],"range":[226,10],"nice":false,"zero":false},"axis":null},"y2":{"datum":10.97}}},
 {"data":{"name":"raw"},"transform":[{"fold":["X","Y","Z"],"as":["s","v"]}],
  "mark":{"type":"line","strokeWidth":2.1},
  "encoding":{"x":{"field":"i","type":"quantitative","scale":{"domain":[-0.6,312.26],"range":[8,527],"nice":false,"zero":false},"axis":null},
   "y":{"field":"v","type":"quantitative","scale":{"domain":[-2.34,10.97],"range":[226,10],"nice":false,"zero":false},"axis":null},
   "color":{"field":"s","type":"nominal","scale":{"domain":["X","Y","Z"],"range":["#1f77b4","#ff7f0e","#2ca02c"]},
    "legend":{"orient":"none","legendX":474,"legendY":90,"title":null,"padding":5,"strokeColor":"#d6d6d6","fillColor":"white","cornerRadius":3,"symbolType":"M-1.77,0H1.77","symbolSize":169,"symbolStrokeWidth":1.5,"symbolOpacity":0.7,"symbolOffset":5,"labelFont":"DejaVu Sans","labelFontSize":10,"labelColor":"#000","labelOffset":14,"rowPadding":2}}}}
]},
{"layer":[
 {"data":{"values":[{}]},"mark":{"type":"rect","fill":"transparent","stroke":"#8a8a8a","strokeWidth":1.5,"strokeDash":[6,4]},
  "encoding":{"x":{"datum":-13.51,"type":"quantitative","scale":{"domain":[-13.51,300.22],"range":[688,1199],"nice":false,"zero":false},"axis":null},"x2":{"datum":300.22},
  "y":{"datum":-3.8,"type":"quantitative","scale":{"domain":[-3.8,3.63],"range":[232,9],"nice":false,"zero":false},"axis":null},"y2":{"datum":3.63}}},
 {"data":{"name":"std"},"transform":[{"fold":["X","Y","Z"],"as":["s","v"]}],
  "mark":{"type":"line","strokeWidth":2.4},
  "encoding":{"x":{"field":"i","type":"quantitative","scale":{"domain":[-13.51,300.22],"range":[688,1199],"nice":false,"zero":false},"axis":null},
   "y":{"field":"v","type":"quantitative","scale":{"domain":[-3.8,3.63],"range":[232,9],"nice":false,"zero":false},"axis":null},
   "color":{"field":"s","type":"nominal","scale":{"domain":["X","Y","Z"],"range":["#1f77b4","#ff7f0e","#2ca02c"]},
    "legend":{"orient":"none","legendX":691,"legendY":11,"title":null,"padding":5,"strokeColor":"#d6d6d6","fillColor":"rgba(255,255,255,0.8)","cornerRadius":3,"symbolType":"M-1.77,0H1.77","symbolSize":169,"symbolStrokeWidth":1.5,"symbolOpacity":0.7,"symbolOffset":5,"labelFont":"DejaVu Sans","labelFontSize":10,"labelColor":"#000","labelOffset":14,"rowPadding":2}}}},
 {"data":{"values":[{}]},"mark":{"type":"rect","fill":"#808080","opacity":0.13},
  "encoding":{"x":{"datum":60.17,"type":"quantitative","scale":{"domain":[-13.51,300.22],"range":[688,1199],"nice":false,"zero":false},"axis":null},"x2":{"datum":69.38},
  "y":{"datum":-3.75,"type":"quantitative","scale":{"domain":[-3.8,3.63],"range":[232,9],"nice":false,"zero":false},"axis":null},"y2":{"datum":3.6}}}
]},
{"layer":[
 {"data":{"values":[{}]},"mark":{"type":"rect","fill":"transparent","stroke":"#8a8a8a","strokeWidth":1.5,"strokeDash":[6,4]},
  "encoding":{"x":{"datum":-1.97,"type":"quantitative","scale":{"domain":[-1.97,140.3],"range":[492,926],"nice":false,"zero":false},"axis":null},"x2":{"datum":140.3},
  "y":{"datum":-3.5,"type":"quantitative","scale":{"domain":[-3.5,3.0],"range":[482,300],"nice":false,"zero":false},"axis":null},"y2":{"datum":3.0}}},
 {"data":{"name":"win"},"transform":[{"fold":["X","Y","Z"],"as":["s","v"]}],
  "mark":{"type":"line","strokeWidth":1.4},
  "encoding":{"x":{"field":"i","type":"quantitative","scale":{"domain":[-1.97,140.3],"range":[492,926],"nice":false,"zero":false},"axis":null},
   "y":{"field":"v","type":"quantitative","scale":{"domain":[-3.5,3.0],"range":[482,300],"nice":false,"zero":false},"axis":null},
   "color":{"field":"s","type":"nominal","scale":{"domain":["X","Y","Z"],"range":["#1f77b4","#ff7f0e","#2ca02c"]},"legend":null}}}
]},
{"layer":[
 {"data":{"values":[{}]},"mark":{"type":"rule","color":"#1f62aa","strokeWidth":2.2},
  "encoding":{"x":{"datum":0.4384,"type":"quantitative","scale":{"domain":[0,1],"range":[0,1202],"nice":false,"zero":false},"axis":null},"x2":{"datum":0.566},
  "y":{"datum":0.2489,"type":"quantitative","scale":{"domain":[0,1],"range":[0,470],"nice":false,"zero":false},"axis":null}}},
 {"data":{"values":[{}]},"mark":{"type":"point","shape":"triangle-right","filled":true,"size":110,"color":"#1f62aa","opacity":1},
  "encoding":{"x":{"datum":0.5682,"type":"quantitative","scale":{"domain":[0,1],"range":[0,1202],"nice":false,"zero":false},"axis":null},
  "y":{"datum":0.2489,"type":"quantitative","scale":{"domain":[0,1],"range":[0,470],"nice":false,"zero":false},"axis":null}}},
 {"data":{"values":[{}]},"mark":{"type":"rule","color":"#1f62aa","strokeWidth":1.5},
  "encoding":{"x":{"datum":0.6739,"type":"quantitative","scale":{"domain":[0,1],"range":[0,1202],"nice":false,"zero":false},"axis":null},"x2":{"datum":0.4093},
  "y":{"datum":0.4915,"type":"quantitative","scale":{"domain":[0,1],"range":[0,470],"nice":false,"zero":false},"axis":null},"y2":{"datum":0.6383}}},
 {"data":{"values":[{}]},"mark":{"type":"rule","color":"#1f62aa","strokeWidth":1.5},
  "encoding":{"x":{"datum":0.6816,"type":"quantitative","scale":{"domain":[0,1],"range":[0,1202],"nice":false,"zero":false},"axis":null},"x2":{"datum":0.7704},
  "y":{"datum":0.4915,"type":"quantitative","scale":{"domain":[0,1],"range":[0,470],"nice":false,"zero":false},"axis":null},"y2":{"datum":0.6383}}},
 {"data":{"values":[{}]},"mark":{"type":"text","font":"Liberation Serif","fontSize":22,"align":"center","baseline":"alphabetic","color":"#000"},
  "encoding":{"text":{"value":"Standardization"},"x":{"datum":0.5021,"type":"quantitative","scale":{"domain":[0,1],"range":[0,1202],"nice":false,"zero":false},"axis":null},
  "y":{"datum":0.2298,"type":"quantitative","scale":{"domain":[0,1],"range":[0,470],"nice":false,"zero":false},"axis":null}}},
 {"data":{"values":[{}]},"mark":{"type":"text","font":"Liberation Serif","fontSize":24,"align":"center","baseline":"alphabetic","color":"#000"},
  "encoding":{"text":{"value":"Windowing"},"x":{"datum":0.6156,"type":"quantitative","scale":{"domain":[0,1],"range":[0,1202],"nice":false,"zero":false},"axis":null},
  "y":{"datum":0.6043,"type":"quantitative","scale":{"domain":[0,1],"range":[0,470],"nice":false,"zero":false},"axis":null}}}
]}
]
}
